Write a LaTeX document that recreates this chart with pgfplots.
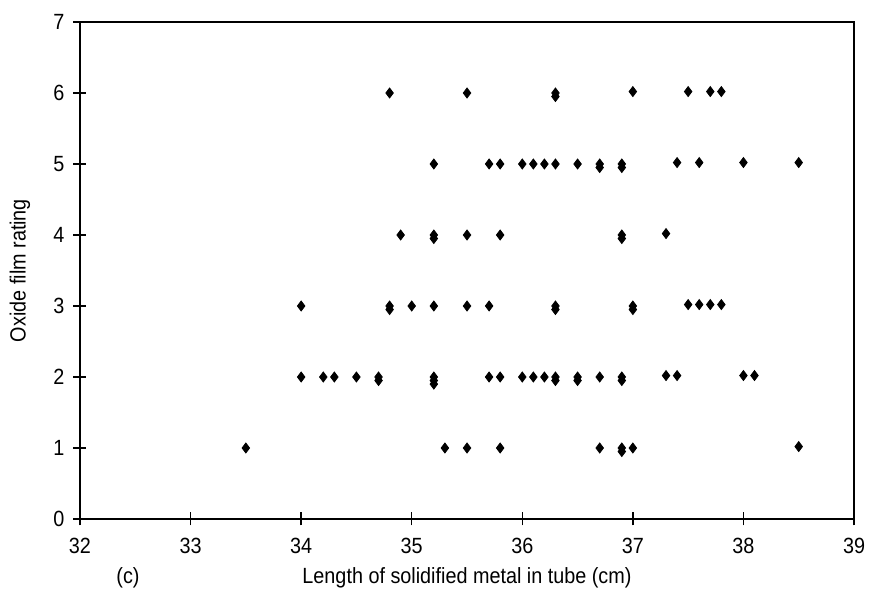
\documentclass[border=0pt]{standalone}
\usepackage{pgfplots}
\pgfplotsset{compat=1.18}
\usepackage{fontspec}
\setmainfont{Liberation Sans}[FakeStretch=0.9]

\begin{document}
\begin{tikzpicture}
\begin{axis}[
  scale only axis,
  width=387pt, height=248.5pt,
  xmin=32, xmax=39, ymin=0, ymax=7,
  xtick={32,...,39}, ytick={0,...,7},
  tick align=center,
  xtick pos=bottom, ytick pos=left,
  major tick length=6.5pt,
  axis line style={line width=1pt},
  every tick/.style={black, line width=0.7pt},
  /pgf/number format/assume math mode=true,
  tick label style={font=\fontsize{11}{13}\selectfont},
  xticklabel shift=3pt,
  yticklabel shift=1pt,
  label style={font=\fontsize{11}{13}\selectfont},
  xlabel={Length of solidified metal in tube (cm)},
  ylabel={Oxide film rating},
  xlabel style={at={(axis description cs:0.5,-0.1187)}, anchor=center},
  ylabel style={at={(axis description cs:-0.0775,0.5)}, anchor=center},
  clip=false,
]
\addplot[only marks, mark=diamond*, mark size=2.5pt, black, mark options={fill=black}]
  coordinates {
  % rating 1
  (33.5,1) (35.3,1) (35.5,1) (35.8,1) (36.7,1) (36.9,1) (36.9,0.95) (37.0,1) (38.5,1.02)
  % rating 2
  (34.0,2) (34.2,2) (34.3,2) (34.5,2) (34.7,2) (34.7,1.95)
  (35.2,2) (35.2,1.95) (35.2,1.9)
  (35.7,2) (35.8,2) (36.0,2) (36.1,2) (36.2,2) (36.3,2) (36.3,1.95)
  (36.5,2) (36.5,1.95) (36.7,2) (36.9,2) (36.9,1.95)
  (37.3,2.02) (37.4,2.02) (38.0,2.02) (38.1,2.02)
  % rating 3
  (34.0,3) (34.8,3) (34.8,2.95) (35.0,3) (35.2,3) (35.5,3) (35.7,3)
  (36.3,3) (36.3,2.95) (37.0,3) (37.0,2.95)
  (37.5,3.02) (37.6,3.02) (37.7,3.02) (37.8,3.02)
  % rating 4
  (34.9,4) (35.2,4) (35.2,3.95) (35.5,4) (35.8,4) (36.9,4) (36.9,3.95) (37.3,4.02)
  % rating 5
  (35.2,5) (35.7,5) (35.8,5) (36.0,5) (36.1,5) (36.2,5) (36.3,5) (36.5,5)
  (36.7,5) (36.7,4.95) (36.9,5) (36.9,4.95)
  (37.4,5.02) (37.6,5.02) (38.0,5.02) (38.5,5.02)
  % rating 6
  (34.8,6) (35.5,6) (36.3,6) (36.3,5.95) (37.0,6.02)
  (37.5,6.02) (37.7,6.02) (37.8,6.02)
  };
\node[font=\fontsize{11}{13}\selectfont, anchor=center]
  at (axis description cs:0.062,-0.1187) {(c)};
\end{axis}
\pgfresetboundingbox
\path (0,0) ++(-40pt,-36.5pt) rectangle (395.5pt,259.5pt);
\end{tikzpicture}
\end{document}
